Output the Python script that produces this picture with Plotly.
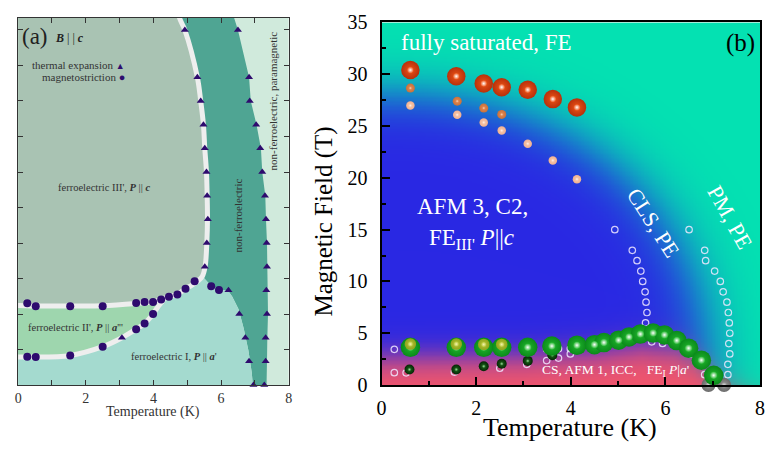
import numpy as np
import plotly.graph_objects as go

SERIF = "Liberation Serif"

# ---------------- measured phase-boundary points (T in K, B in T) ----------------
# thermal expansion anomalies
te_cls_T = [4.93, 5.30, 5.40, 5.48, 5.52, 5.57, 5.59, 5.61, 5.58, 5.52]
te_cls_B = [15, 13, 12, 11, 10, 9, 8, 7, 6, 5]
te_pm_T = [6.50, 6.83, 6.85, 7.04, 7.16, 7.22, 7.30, 7.33, 7.35, 7.36, 7.34, 7.36, 7.32, 7.32, 7.28]
te_pm_B = [15, 13, 12, 11, 10, 9, 8, 7, 6, 5, 4, 3, 2, 1, 0]
te_fe_T = [6.22, 6.54, 6.72, 6.83, 6.96, 3.07]
te_fe_B = [4, 3, 2, 1, 0, 2]

# magnetostriction anomalies
ms_up_T = [0.27, 0.52, 1.54, 2.50, 3.49, 3.74, 3.99, 4.23, 4.46, 4.71, 4.95, 5.22, 5.71, 5.94]
ms_up_B = [3.45, 3.33, 3.33, 3.33, 3.47, 3.51, 3.51, 3.61, 3.73, 3.82, 4.07, 4.38, 4.17, 4.02]
ms_lo_T = [0.27, 0.52, 1.54, 2.50, 3.49, 3.74, 3.99]
ms_lo_B = [1.19, 1.18, 1.25, 1.62, 2.36, 2.60, 3.00]

# phase boundaries of panel (a)
b1_T = [4.72, 4.77, 4.93, 5.30, 5.40, 5.48, 5.52, 5.57, 5.59, 5.60, 5.58, 5.53, 5.45, 5.30, 5.12,
        4.95, 4.71, 4.46, 4.23, 3.99, 3.50, 2.50, 1.54, 0.52, 0.0, -0.3]
b1_B = [16.0, 15.52, 15.0, 13.0, 12.0, 11.0, 10.0, 9.0, 8.0, 7.0, 6.0, 5.0, 4.6, 4.38, 4.2,
        4.07, 3.83, 3.73, 3.61, 3.52, 3.45, 3.35, 3.34, 3.34, 3.36, 3.36]
b2_T = [-0.3, 0.0, 0.27, 0.52, 1.54, 2.50, 3.07, 3.49, 3.74, 3.99, 4.12, 4.30]
b2_B = [1.18, 1.18, 1.19, 1.18, 1.25, 1.62, 2.00, 2.36, 2.60, 3.00, 3.28, 3.60]
fe1_T = [6.97, 6.94, 6.91, 6.81, 6.67, 6.52, 6.33, 6.21, 5.94, 5.71, 5.58, 5.45]
fe1_B = [-0.5, 0.0, 0.52, 1.46, 2.40, 3.20, 3.74, 3.98, 4.05, 4.18, 4.38, 4.60]
pm_T = [7.34, 7.34, 7.36, 7.37, 7.39, 7.38, 7.38, 7.36, 7.33, 7.31, 7.22, 7.18, 7.05, 6.88, 6.83, 6.50, 6.28]
pm_B = [-0.5, 0.0, 1, 2, 3, 4, 5, 6, 7, 8, 9, 10, 11, 12, 13, 15, 16]

# ---------------- panel (b) data ----------------
sat_T = [0.61, 1.58, 2.16, 2.54, 3.09, 3.62, 4.13]
sat_B = [30.4, 29.8, 29.1, 28.75, 28.5, 27.6, 26.8]
mid_T = [0.61, 1.60, 2.16, 2.54]
mid_B = [28.66, 27.4, 26.73, 26.12]
low_T = [0.61, 1.60, 2.16, 2.54, 3.09, 3.62, 4.13]
low_B = [26.98, 26.09, 25.35, 24.56, 23.3, 21.68, 19.87]
grn_T = [0.61, 1.58, 2.16, 2.54, 3.09, 3.60, 4.13, 4.50, 4.70, 5.01, 5.23, 5.47, 5.74, 5.98, 6.24, 6.49, 6.76, 7.02]
grn_B = [3.64, 3.64, 3.64, 3.64, 3.64, 3.76, 3.84, 3.90, 4.10, 4.33, 4.64, 4.92, 5.02, 4.84, 4.30, 3.56, 2.40, 0.94]
yel_T = [0.61, 1.58, 2.16, 2.54]
yel_B = [3.95, 3.95, 3.92, 3.92]
dkg_T = [0.59, 1.58, 2.16, 2.54, 3.09, 3.61]
dkg_B = [1.50, 1.50, 1.81, 2.05, 2.33, 2.88]
gry_T = [6.91, 7.24]
gry_B = [0.0, 0.0]

# ---------------- colours ----------------
C_III = "rgb(169,195,179)"
C_NFE = "rgb(79,165,147)"
C_PM = "rgb(208,234,220)"
C_FE1 = "rgb(164,218,207)"
C_FE2 = "rgb(158,214,174)"
C_LINE = "rgb(238,238,238)"
C_MARK = "#2e0b6e"

fig = go.Figure()


def poly(xs, ys, color):
    fig.add_trace(go.Scatter(x=xs, y=ys, mode="lines", fill="toself", fillcolor=color,
                             line=dict(width=0, color=color), hoverinfo="skip",
                             showlegend=False, xaxis="x", yaxis="y"))


# non-ferroelectric band
nfe_x = b1_T[:13] + fe1_T[::-1] + pm_T
nfe_y = b1_B[:13] + fe1_B[::-1] + pm_B
poly(nfe_x, nfe_y, C_NFE)
# ferroelectric I
poly([-0.5] + fe1_T + [-0.5], [-0.5] + fe1_B + [4.6], C_FE1)
# ferroelectric II' (between the two white boundaries)
lower_part = [(t, b) for t, b in zip(b1_T, b1_B) if t <= 4.30]
poly(b2_T + [t for t, _ in lower_part], b2_B + [b for _, b in lower_part], C_FE2)
# ferroelectric III'
poly(b1_T + [-0.5], b1_B + [16.5], C_III)

# white boundaries
for xs, ys in [(b1_T, b1_B), (b2_T, b2_B)]:
    fig.add_trace(go.Scatter(x=xs, y=ys, mode="lines", line=dict(color=C_LINE, width=5, shape="spline"),
                             hoverinfo="skip", showlegend=False, xaxis="x", yaxis="y"))

# markers of panel (a)
fig.add_trace(go.Scatter(x=te_cls_T + te_pm_T + te_fe_T, y=te_cls_B + te_pm_B + te_fe_B, mode="markers",
                         marker=dict(symbol="triangle-up", size=7, color=C_MARK), cliponaxis=False,
                         showlegend=False, xaxis="x", yaxis="y"))
fig.add_trace(go.Scatter(x=ms_up_T + ms_lo_T, y=ms_up_B + ms_lo_B, mode="markers",
                         marker=dict(symbol="circle", size=8, color=C_MARK),
                         showlegend=False, xaxis="x", yaxis="y"))

# ---------------- panel (b) background ----------------
nx, ny = 240, 280
dx, dy = 8.0 / nx, 35.0 / ny
tt = (np.arange(nx) + 0.5) * dx
bb = (np.arange(ny) + 0.5) * dy
TT, BB = np.meshgrid(tt, bb)
pw = 2.2
r = ((TT / 6.9) ** pw + (BB / 28.0) ** pw) ** (1 / pw)
w_teal = 1 / (1 + np.exp(-(r - 1) / 0.05))
pink_edge_T = [0, 3.0, 4.5, 5.5, 6.2, 6.6, 7.0, 7.3, 8]
pink_edge_B = [2.6, 2.7, 3.1, 3.7, 3.4, 2.6, 0.9, -0.5, -2.0]
bp = np.interp(TT, pink_edge_T, pink_edge_B)
w_pink = 1 / (1 + np.exp(-(bp - BB) / 0.85))
blue = np.array([42, 40, 228.0])
teal = np.array([4, 226, 178.0])
pink = np.array([242, 86, 108.0])
base = blue[None, None, :] * (1 - w_teal[..., None]) + teal[None, None, :] * w_teal[..., None]
img = base * (1 - w_pink[..., None]) + pink[None, None, :] * w_pink[..., None]
img = np.clip(img, 0, 255).astype(np.uint8)

fig.add_trace(go.Image(z=img, x0=dx / 2, dx=dx, y0=dy / 2, dy=dy, xaxis="x2", yaxis="y2",
                       zsmooth="fast", hoverinfo="skip"))

# open circles: thermal expansion + magnetostriction
fig.add_trace(go.Scatter(x=te_cls_T + te_pm_T + te_fe_T + ms_up_T + ms_lo_T,
                         y=te_cls_B + te_pm_B + te_fe_B + ms_up_B + ms_lo_B, mode="markers",
                         marker=dict(symbol="circle-open", size=6.5, color="rgba(240,232,255,0.85)",
                                     line=dict(width=1.2)),
                         showlegend=False, xaxis="x2", yaxis="y2"))


def sphere(xs, ys, size, edge, body, hi, hsize, clip=True):
    fig.add_trace(go.Scatter(x=xs, y=ys, mode="markers", cliponaxis=clip,
                             marker=dict(size=size, color=edge, line=dict(width=0),
                                         gradient=dict(type="radial", color=body)),
                             showlegend=False, hoverinfo="skip", xaxis="x2", yaxis="y2"))
    fig.add_trace(go.Scatter(x=xs, y=ys, mode="markers", cliponaxis=clip,
                             marker=dict(size=hsize, color=body, line=dict(width=0),
                                         gradient=dict(type="radial", color=hi)),
                             showlegend=False, hoverinfo="skip", xaxis="x2", yaxis="y2"))


sphere(dkg_T, dkg_B, 10, "#052405", "#1d6a1d", "#9fcf9f", 3.5)
sphere(gry_T, gry_B, 14, "#6a6a6a", "#9a9a9a", "#d8d8d8", 5, clip=False)
sphere(grn_T, grn_B, 19.5, "#0a8a1a", "#22b52e", "#ffffff", 7.5)
sphere(yel_T, yel_B, 11.5, "#8ea31a", "#b8c83a", "#f4f4b0", 5)
sphere(low_T, low_B, 8.5, "#f0b090", "#f8cbb0", "#fff0e8", 3)
sphere(mid_T, mid_B, 9, "#c8703a", "#e48c55", "#f8d0b0", 3)
sphere(sat_T, sat_B, 18.5, "#b8300a", "#ec5418", "#ffffff", 6.5)

# ---------------- layout ----------------
ya_top = (456 - 7) / 456
yb_top = (456 - 12) / 456
y_bot = (456 - 393) / 456

axa = dict(showline=True, linecolor="#333", linewidth=1.2, mirror="ticks", ticks="inside",
           ticklen=5, tickcolor="#333", tickwidth=1.2, showgrid=False, zeroline=False)
axb = dict(showline=True, linecolor="black", linewidth=2, mirror=True, ticks="inside",
           ticklen=8, tickcolor="black", tickwidth=2, showgrid=False, zeroline=False,
           tickfont=dict(family=SERIF, size=20, color="black"))

fig.update_layout(
    width=768, height=456, margin=dict(l=0, r=0, t=0, b=0),
    paper_bgcolor="white", plot_bgcolor=C_PM, showlegend=False,
    xaxis=dict(domain=[13.3 / 768, 287 / 768], range=[0, 8], tickvals=list(range(9)),
               ticktext=["0", "", "2", "", "4", "", "6", "", "8"],
               tickfont=dict(family=SERIF, size=14, color="#333"), **axa),
    yaxis=dict(domain=[y_bot, ya_top], range=[0, 15.52], tickvals=[i * 1.5 for i in range(11)],
               showticklabels=False, **axa),
    xaxis2=dict(domain=[381 / 768, 764 / 768], range=[0, 8], autorange=False, dtick=2, anchor="y2",
                constrain="range",
                minor=dict(dtick=1, ticks="inside", ticklen=4, tickcolor="black", tickwidth=1.5),
                ticklabelstandoff=4, **axb),
    yaxis2=dict(domain=[y_bot, yb_top], range=[0, 35], autorange=False, dtick=5, anchor="x2",
                scaleanchor=False, constrain="range",
                minor=dict(dtick=2.5, ticks="inside", ticklen=4, tickcolor="black", tickwidth=1.5),
                ticklabelstandoff=8, **axb),
)

ann = []


def txt(x, y, s, size, color="#333", ref="", angle=0, xanchor="center", yanchor="middle"):
    d = dict(x=x, y=y, text=s, showarrow=False, textangle=angle, xanchor=xanchor, yanchor=yanchor,
             font=dict(family=SERIF, size=size, color=color))
    if ref == "paper":
        d.update(xref="paper", yref="paper")
    elif ref == "b":
        d.update(xref="x2", yref="y2")
    else:
        d.update(xref="x", yref="y")
    ann.append(d)


# panel (a) texts
txt(15 / 768, (456 - 27) / 456, "(a)", 23, "#222", ref="paper", xanchor="left")
txt(49 / 768, (456 - 28) / 456, "<b><i>B</i></b> | | <b><i>c</i></b>", 12, "#222", ref="paper", xanchor="left")
txt(123 / 768, (456 - 57) / 456, "thermal expansion <span style='color:#2e0b6e;font-size:9px'>▲</span>",
    11, ref="paper", xanchor="right")
txt(123 / 768, (456 - 69) / 456, "magnetostriction <span style='color:#2e0b6e;font-size:11px'>●</span>",
    11, ref="paper", xanchor="right")
txt(2.53, 8.36, "ferroelectric III', <b><i>P</i></b> || <b><i>c</i></b>", 10.5)
txt(1.71, 2.45, "ferroelectric II', <b><i>P</i></b> || <b><i>a</i></b>'''", 10.5)
txt(4.62, 1.21, "ferroelectric I, <b><i>P</i></b> || <b><i>a</i></b>'", 10.5)
txt(6.50, 7.16, "non-ferroelectric", 11, angle=-90)
txt(7.55, 12.0, "non-ferroelectric, paramagnetic", 11, angle=-90)
txt(150 / 768, (456 - 421) / 456, "Temperature (K)", 14, ref="paper")

# panel (b) texts
txt(0.36, 33.07, "fully saturated, FE", 23, "white", ref="b", xanchor="left")
txt(7.94, 33.0, "(b)", 25, "black", ref="b", xanchor="right")
txt(0.71, 17.27, "AFM 3, C2,", 23, "white", ref="b", xanchor="left")
txt(0.96, 14.1, "FE<sub>III'</sub> <i>P</i>||<i>c</i>", 23, "white", ref="b", xanchor="left")
txt(5.74, 15.7, "CLS, PE", 22, "white", ref="b", angle=57)
txt(7.37, 16.2, "PM, PE", 22, "white", ref="b", angle=61)
txt(4.94, 1.38, "CS, AFM 1, ICC,   FE<sub>I</sub> <i>P</i>|<i>a</i>'", 13.5, "white", ref="b")
txt(572 / 768, (456 - 438) / 456, "Temperature (K)", 26, "black", ref="paper")
txt(323 / 768, (456 - 221) / 456, "Magnetic Field (T)", 25, "black", ref="paper", angle=-90)

fig.update_layout(annotations=ann)
fig.write_html("out.html")
